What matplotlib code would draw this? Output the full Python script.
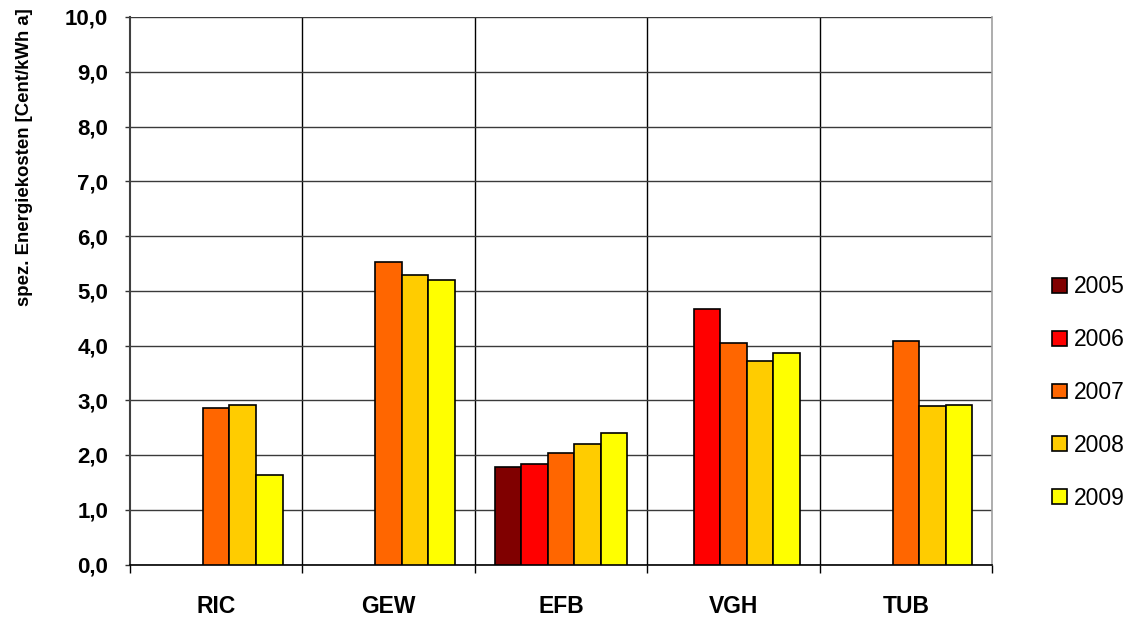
import numpy as np
import matplotlib
matplotlib.use("Agg")
import matplotlib.pyplot as plt
from matplotlib.ticker import FixedLocator, FuncFormatter

plt.rcParams['font.family'] = ['Liberation Sans', 'DejaVu Sans']

# Energy cost per site and year (Cent/kWh a); NaN = no value
sites = ["RIC", "GEW", "EFB", "VGH", "TUB"]
years = ["2005", "2006", "2007", "2008", "2009"]
v2005 = [np.nan, np.nan, 1.78, np.nan, np.nan]
v2006 = [np.nan, np.nan, 1.83, 4.67, np.nan]
v2007 = [2.86, 5.52, 2.04, 4.04, 4.09]
v2008 = [2.91, 5.29, 2.21, 3.72, 2.89]
v2009 = [1.63, 5.20, 2.40, 3.87, 2.92]
series = [v2005, v2006, v2007, v2008, v2009]
colors = ["#800000", "#FF0000", "#FF6600", "#FFCC00", "#FFFF00"]

fig = plt.figure(figsize=(11.28, 6.17), dpi=100)
ax = fig.add_axes([130 / 1128, 1 - 564.5 / 617, 862 / 1128, 547.5 / 617])

x = np.arange(len(sites))
w = 1 / 6.5
for i, (vals, col, yr) in enumerate(zip(series, colors, years)):
    ax.bar(x + (i - 2) * w, vals, width=w, color=col, edgecolor="black",
           linewidth=1.2, label=yr, zorder=3)

ax.set_xlim(-0.5, len(sites) - 0.5)
ax.set_ylim(0, 10)

# horizontal grid at every unit
ax.yaxis.set_major_locator(FixedLocator(np.arange(0, 11, 1)))
ax.yaxis.set_major_formatter(FuncFormatter(lambda v, p: f"{v:.1f}".replace(".", ",")))
ax.grid(axis="y", color="#3a3a3a", linewidth=1.0, zorder=1)

# category separators
for b in np.arange(0.5, len(sites) - 0.5, 1):
    ax.axvline(b, color="black", linewidth=1.0, zorder=1)

ax.set_xticks(x)
ax.set_xticklabels(sites, fontsize=16.5, fontweight="bold")
ax.tick_params(axis="x", which="major", length=0, pad=22)
ax.xaxis.set_minor_locator(FixedLocator(np.arange(-0.5, len(sites), 1)))
ax.tick_params(axis="x", which="minor", length=5.5, width=1.0, color="black", direction="out")

ax.tick_params(axis="y", length=3.6, width=1.0, color="#333333", pad=12,
               labelsize=16)
for lbl in ax.get_yticklabels():
    lbl.set_fontweight("bold")

ax.spines["top"].set_visible(False)
ax.spines["right"].set_color("#a0a0a0")
ax.spines["right"].set_linewidth(1.2)
ax.spines["left"].set_color("#404040")
ax.spines["left"].set_linewidth(1.5)
ax.spines["bottom"].set_color("black")
ax.spines["bottom"].set_linewidth(1.2)

fig.text(25 / 1128, 1 - 157 / 617, "spez. Energiekosten [Cent/kWh a]",
         rotation=90, ha="center", va="center", fontsize=13.4, fontweight="bold")

leg = fig.legend(loc="center left", bbox_to_anchor=(1041 / 1128, 1 - 392.5 / 617),
                 frameon=False, fontsize=16.5, handlelength=0.62, handleheight=0.62,
                 handletextpad=0.3, labelspacing=1.3, borderpad=0)

fig.savefig("out.png", dpi=100)
